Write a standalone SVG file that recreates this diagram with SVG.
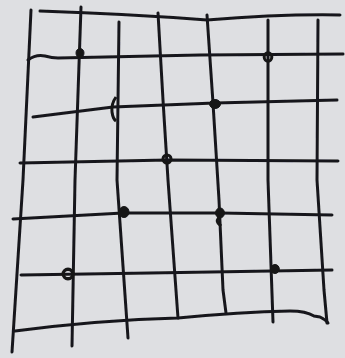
<svg xmlns="http://www.w3.org/2000/svg" width="345" height="358" viewBox="0 0 345 358">
<defs>
<style>
.ln{fill:none;stroke:#19191b;stroke-width:3;stroke-linecap:round;stroke-linejoin:round}
.dot{fill:#141416;stroke:#141416;stroke-width:1}
.ring{fill:none;stroke:#141416;stroke-width:3}
</style>
<filter id="soft" x="-5%" y="-5%" width="110%" height="110%"><feGaussianBlur stdDeviation="0.5"/></filter>
</defs>
<rect width="345" height="358" fill="#dedfe2"/>
<g filter="url(#soft)">
<g id="vertical-lines">
<path class="ln" d="M31,10 L23,180 L12,352"/>
<path class="ln" d="M81,7 L75,180 L72,346"/>
<path class="ln" d="M119,22 L117,180 L128,338"/>
<path class="ln" d="M158,13 L163,100 L168,180 L178,318"/>
<path class="ln" d="M207,15 L213,103 L219,200 L223,290 L226,313"/>
<path class="ln" d="M268,20 L268,180 L273,322"/>
<path class="ln" d="M318,20 L317,180 L324,290 L327,323"/>
</g>
<g id="horizontal-lines">
<path class="ln" d="M40,11 Q130,14 207,20 Q280,14 340,15"/>
<path class="ln" d="M28,60 Q36,54 45,56 Q52,58 58,58 L200,55 L343,54"/>
<path class="ln" d="M33,117 L113,107 L215,103 L337,100"/>
<path class="ln" d="M20,163 L168,160 L338,161"/>
<path class="ln" d="M13,219 L123,213 L220,213 L332,215"/>
<path class="ln" d="M21,275 L150,273 L332,270"/>
<path class="ln" d="M15,331 Q100,320 178,318 Q240,312 290,311 Q306,311 314,316 L320,317 Q326,320 328,323"/>
</g>
<g id="points">
<ellipse class="dot" cx="80" cy="53" rx="4" ry="4.5"/>
<ellipse class="ring" cx="268" cy="57" rx="3.8" ry="4.2"/>
<path class="ring" d="M116,97 Q111,104 112,112 Q113,119 116,121"/>
<ellipse class="dot" cx="215" cy="104" rx="5.5" ry="4.5"/>
<ellipse class="ring" cx="167" cy="159" rx="4" ry="4"/>
<ellipse class="dot" cx="124" cy="212" rx="5" ry="5.5"/>
<ellipse class="dot" cx="220" cy="213" rx="4.5" ry="5"/>
<path class="ring" d="M220,216 Q216,220 218,223 L221,226"/>
<ellipse class="ring" cx="68" cy="274" rx="4.8" ry="4.8" style="stroke-width:3.4"/>
<ellipse class="dot" cx="275" cy="269" rx="4.3" ry="4.5"/>
</g>
</g>
</svg>
